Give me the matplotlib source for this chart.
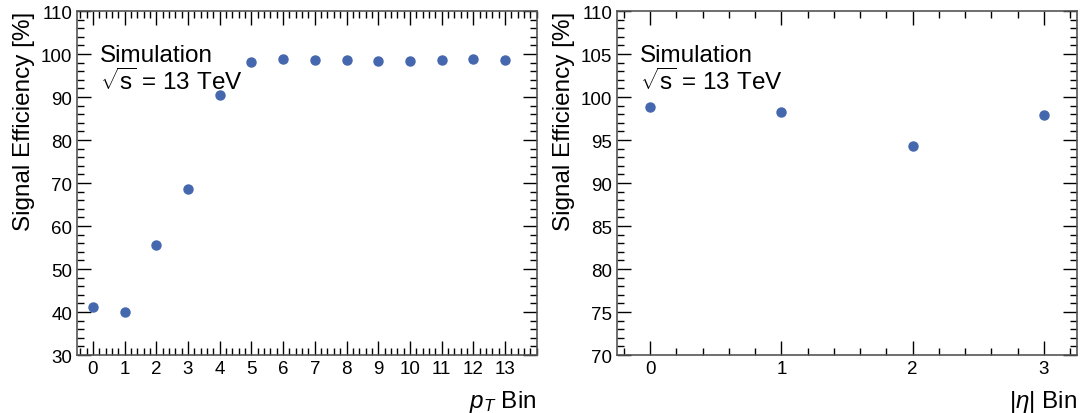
import matplotlib
matplotlib.use('Agg')
import matplotlib.pyplot as plt
from matplotlib.ticker import MultipleLocator

pt_bins = list(range(14))
pt_eff = [41.2, 40.0, 55.6, 68.6, 90.5, 98.1, 98.8, 98.7, 98.6, 98.3, 98.4, 98.5, 98.8, 98.5]

eta_bins = [0, 1, 2, 3]
eta_eff = [98.8, 98.3, 94.3, 97.9]

color = '#4467ae'

plt.rcParams['font.family'] = ['Liberation Sans', 'DejaVu Sans']
plt.rcParams['mathtext.fontset'] = 'custom'
plt.rcParams['mathtext.rm'] = 'Liberation Sans'
plt.rcParams['mathtext.it'] = 'Liberation Sans:italic'


def style(ax, ymaj, ymin):
    ax.tick_params(which='both', direction='in', top=True, right=True, labelsize=13.5)
    ax.tick_params(which='major', length=10, width=1)
    ax.tick_params(which='minor', length=5, width=1)
    ax.xaxis.set_minor_locator(MultipleLocator(0.2))
    ax.yaxis.set_major_locator(MultipleLocator(ymaj))
    ax.yaxis.set_minor_locator(MultipleLocator(ymin))
    for s in ax.spines.values():
        s.set_linewidth(1.2)
        s.set_color('#555555')
    ax.text(0.05, 0.905, 'Simulation', transform=ax.transAxes, fontsize=17.5, va='top')
    ax.text(0.05, 0.835, r'$\sqrt{\mathrm{s}}$ = 13 TeV', transform=ax.transAxes, fontsize=17.5, va='top')


fig, (ax1, ax2) = plt.subplots(1, 2, figsize=(10.85, 4.14), dpi=100)
fig.subplots_adjust(left=0.071, right=0.9925, bottom=0.14, top=0.971, wspace=0.175)

ax1.plot(pt_bins, pt_eff, 'o', color=color, ms=6.5)
ax1.set_xlim(-0.5, 14)
ax1.set_ylim(30, 110)
ax1.set_xticks(pt_bins)
style(ax1, 10, 2)
ax1.set_xlabel(r'$p_T$ Bin', fontsize=17.5, loc='right', labelpad=8)
ax1.set_ylabel('Signal Efficiency [%]', fontsize=17.5, loc='top')

ax2.plot(eta_bins, eta_eff, 'o', color=color, ms=6.5)
ax2.set_xlim(-0.25, 3.25)
ax2.set_ylim(70, 110)
ax2.set_xticks(eta_bins)
style(ax2, 5, 1)
ax2.set_xlabel(r'$|\eta|$ Bin', fontsize=17.5, loc='right', labelpad=8)
ax2.set_ylabel('Signal Efficiency [%]', fontsize=17.5, loc='top')

plt.savefig('out.png')
plt.close()
